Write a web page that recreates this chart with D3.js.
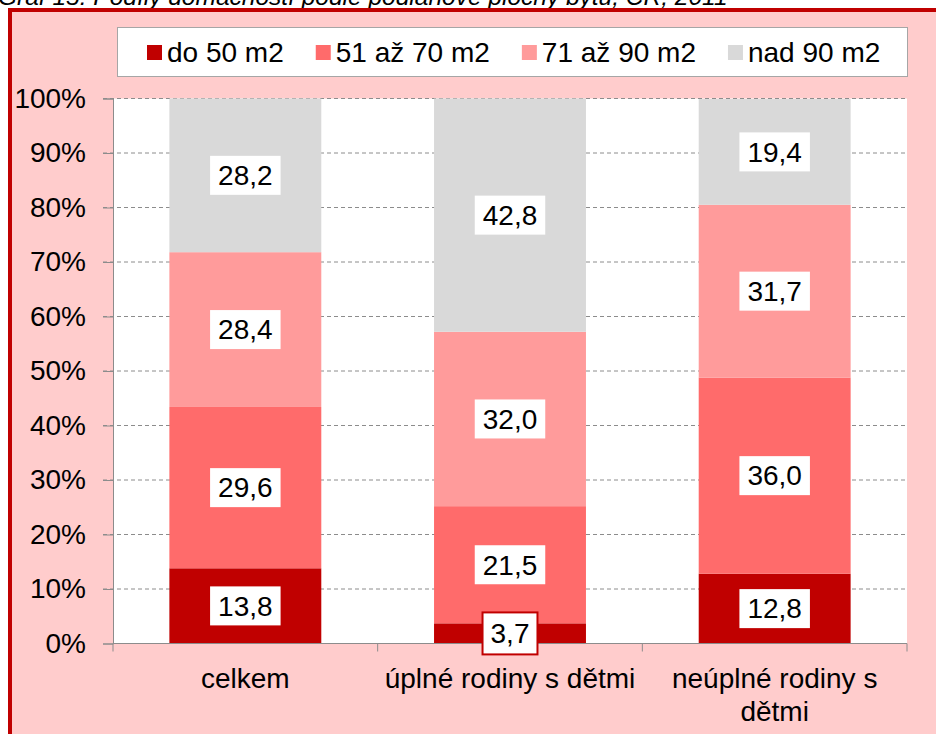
<!DOCTYPE html>
<html>
<head>
<meta charset="utf-8">
<script src="https://cdn.jsdelivr.net/npm/d3@7.9.0/dist/d3.min.js"></script>
<style>
  html, body { margin: 0; padding: 0; background: #fff; }
  svg { display: block; font-family: "Liberation Sans", Arial, sans-serif; }
</style>
</head>
<body>
<div id="chart"></div>
<script>
// chart values
const title = 'Graf 15: Podíly domácností podle podlahové plochy bytu, ČR, 2011';
const categories = ['celkem', 'úplné rodiny s dětmi', 'neúplné rodiny s dětmi'];
const seriesNames = ['do 50 m2', '51 až 70 m2', '71 až 90 m2', 'nad 90 m2'];
const seriesColors = ['#C00000', '#FF6B6B', '#FF9B9B', '#D9D9D9'];
const do50 = [13.8, 3.7, 12.8];
const od51do70 = [29.6, 21.5, 36.0];
const od71do90 = [28.4, 32.0, 31.7];
const nad90 = [28.2, 42.8, 19.4];
const yTicks = [0, 0.1, 0.2, 0.3, 0.4, 0.5, 0.6, 0.7, 0.8, 0.9, 1];

const width = 936;
const height = 734;

const rows = categories.map((c, i) => ({
  cat: c,
  'do 50 m2': do50[i],
  '51 až 70 m2': od51do70[i],
  '71 až 90 m2': od71do90[i],
  'nad 90 m2': nad90[i]
}));

const svg = d3.select('#chart')
  .append('svg')
  .attr('width', width)
  .attr('height', height);

// title, half cut off at the top like in the picture
svg.append('text')
  .attr('x', -2)
  .attr('y', 5)
  .attr('font-size', 24.5)
  .attr('font-style', 'italic')
  .attr('fill', '#000')
  .text(title);

// outer frame
svg.append('rect')
  .attr('x', 10).attr('y', 10)
  .attr('width', width + 20).attr('height', height + 20)
  .attr('fill', '#FFCCCC')
  .attr('stroke', '#C00000')
  .attr('stroke-width', 4);

const plot = { left: 113, right: 907, top: 98.5, bottom: 643.5 };

const x = d3.scaleBand()
  .domain(categories)
  .range([plot.left, plot.right])
  .paddingInner(0.426)
  .paddingOuter(0.213);

const y = d3.scaleLinear()
  .domain([0, 1])
  .range([plot.bottom, plot.top]);

// plot area
svg.append('rect')
  .attr('x', plot.left).attr('y', plot.top)
  .attr('width', plot.right - plot.left)
  .attr('height', plot.bottom - plot.top)
  .attr('fill', '#fff');

// dashed gridlines
svg.append('g')
  .selectAll('line')
  .data(yTicks.filter(d => d > 0))
  .join('line')
  .attr('x1', plot.left - 10)
  .attr('x2', plot.right)
  .attr('y1', d => y(d))
  .attr('y2', d => y(d))
  .attr('stroke', '#8c8c8c')
  .attr('stroke-width', 1)
  .attr('stroke-dasharray', '4,3');

// stacked bars
const stack = d3.stack().keys(seriesNames);
const stacked = stack(rows);
const color = d3.scaleOrdinal().domain(seriesNames).range(seriesColors);

const layers = svg.append('g')
  .selectAll('g')
  .data(stacked)
  .join('g')
  .attr('fill', d => color(d.key));

layers.selectAll('rect')
  .data(d => d)
  .join('rect')
  .attr('x', d => x(d.data.cat))
  .attr('width', x.bandwidth())
  .attr('y', d => y(d[1] / 100))
  .attr('height', d => y(d[0] / 100) - y(d[1] / 100));

// y axis
const yAxis = d3.axisLeft(y)
  .tickValues(yTicks)
  .tickFormat(d3.format('.0%'))
  .tickSize(10)
  .tickPadding(17);

const gy = svg.append('g')
  .attr('transform', `translate(${plot.left},0)`)
  .call(yAxis);
gy.select('.domain').attr('stroke', '#8c8c8c');
gy.selectAll('.tick line').attr('stroke', '#8c8c8c');
gy.selectAll('.tick text')
  .attr('font-size', 28)
  .attr('font-family', '"Liberation Sans", Arial, sans-serif')
  .attr('fill', '#000');

// x axis line with ticks between categories
const gx = svg.append('g');
gx.append('line')
  .attr('x1', plot.left).attr('x2', plot.right)
  .attr('y1', plot.bottom).attr('y2', plot.bottom)
  .attr('stroke', '#8c8c8c');
const bounds = categories.map(c => x(c) - x.step() * x.paddingOuter());
bounds.push(plot.right);
gx.selectAll('line.tk')
  .data(bounds)
  .join('line')
  .attr('class', 'tk')
  .attr('x1', d => d).attr('x2', d => d)
  .attr('y1', plot.bottom).attr('y2', plot.bottom + 8)
  .attr('stroke', '#8c8c8c');

// category labels, wrapped when too wide for the band
categories.forEach(c => {
  const t = gx.append('text')
    .attr('x', x(c) + x.bandwidth() / 2)
    .attr('y', 688)
    .attr('text-anchor', 'middle')
    .attr('font-size', 28)
    .attr('fill', '#000');
  const words = c.split(' ');
  let line = [];
  let tspan = t.append('tspan').attr('x', x(c) + x.bandwidth() / 2);
  words.forEach(w => {
    line.push(w);
    tspan.text(line.join(' '));
    if (tspan.node().getComputedTextLength() > x.step() - 10 && line.length > 1) {
      line.pop();
      tspan.text(line.join(' '));
      line = [w];
      tspan = t.append('tspan')
        .attr('x', x(c) + x.bandwidth() / 2)
        .attr('dy', 33)
        .text(w);
    }
  });
});

// data labels in white boxes
const fmt = v => d3.format('.1f')(v).replace('.', ',');
const labels = svg.append('g');
stacked.forEach(layer => {
  layer.forEach(d => {
    const v = d[1] - d[0];
    const cx = x(d.data.cat) + x.bandwidth() / 2;
    const cy = y((d[0] + d[1]) / 200);
    const g = labels.append('g');
    const box = g.append('rect').attr('fill', '#fff');
    const t = g.append('text')
      .attr('x', cx)
      .attr('y', cy)
      .attr('dy', '0.35em')
      .attr('text-anchor', 'middle')
      .attr('font-size', 28)
      .attr('fill', '#000')
      .text(fmt(v));
    const w = t.node().getComputedTextLength();
    box.attr('x', cx - w / 2 - 8)
      .attr('y', cy - 19.5)
      .attr('width', w + 16)
      .attr('height', 39);
    // the small value sticks out of its segment and gets a frame
    if (y(d[0] / 100) - y(d[1] / 100) < 39) {
      box.attr('stroke', '#C00000').attr('stroke-width', 2)
        .attr('y', cy - 21).attr('height', 42);
    }
  });
});

// legend
const legend = svg.append('g');
legend.append('rect')
  .attr('x', 117.5).attr('y', 27.5)
  .attr('width', 790).attr('height', 49)
  .attr('fill', '#fff')
  .attr('stroke', '#a6a6a6');
let lx = 147;
seriesNames.forEach(name => {
  legend.append('rect')
    .attr('x', lx).attr('y', 45)
    .attr('width', 15).attr('height', 15)
    .attr('fill', color(name));
  const t = legend.append('text')
    .attr('x', lx + 20)
    .attr('y', 62)
    .attr('font-size', 28)
    .attr('fill', '#000')
    .text(name);
  lx += 20 + t.node().getComputedTextLength() + 32;
});
</script>
</body>
</html>
